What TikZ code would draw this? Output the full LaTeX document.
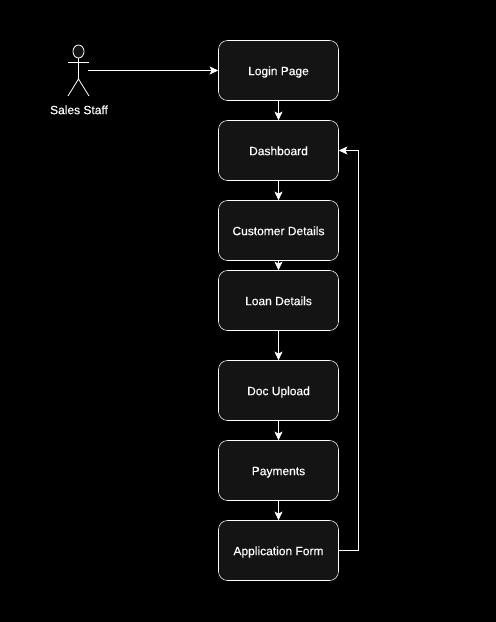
\documentclass[tikz,border=0pt]{standalone}
\usepackage{fontspec}
\setmainfont[FakeBold=0.25]{Liberation Sans}
\usetikzlibrary{arrows.meta}
\usetikzlibrary{shapes.geometric}
\definecolor{boxfill}{HTML}{141414}
\tikzset{
    screen/.style={draw=white,fill=boxfill,rounded corners=6.75pt,minimum width=90pt,minimum height=45pt,inner sep=0pt,text=white,text height=8pt,text depth=1pt,font=\fontsize{9}{11}\selectfont},
    flow/.style={draw=white,line width=0.75pt,-{Stealth[length=6.5pt,width=6pt,inset=1.5pt]}},
    limb/.style={draw=white,line width=0.6pt}
}
\begin{document}
\begin{tikzpicture}[x=0.75pt,y=-0.75pt]
    \useasboundingbox[fill=black] (0,0) rectangle (496,622);

    \node[screen] (login) at (278.5,70.5) {Login Page};
    \node[screen] (dashboard) at (278.5,150.5) {Dashboard};
    \node[screen] (customer) at (278.5,230.5) {Customer Details};
    \node[screen] (loan) at (278.5,300.5) {Loan Details};
    \node[screen] (upload) at (278.5,390.5) {Doc Upload};
    \node[screen] (payments) at (278.5,470.5) {Payments};
    \node[screen] (appform) at (278.5,550.5) {Application Form};

    % actor
    \node[ellipse,limb,fill=boxfill,minimum width=8.25pt,minimum height=9.75pt,inner sep=0pt] (head) at (78.5,51.5) {};
    \coordinate (hip) at (78.5,79);
    \coordinate (handl) at (68,62);
    \coordinate (handr) at (89,62);
    \coordinate (footl) at (68,96);
    \coordinate (footr) at (89,96);
    \coordinate (staffout) at (88,70.5);
    \draw[limb] (head) -- (hip);
    \draw[limb] (handl) -- (handr);
    \draw[limb] (footl) -- (hip) -- (footr);
    \node[text=white,text height=8pt,text depth=1pt,font=\fontsize{9}{11}\selectfont] (staff) at (79,109.5) {Sales Staff};

    \draw[flow] (staffout) -- (login);
    \draw[flow] (login) -- (dashboard);
    \draw[flow] (dashboard) -- (customer);
    \draw[flow] (customer) -- (loan);
    \draw[flow] (loan) -- (upload);
    \draw[flow] (upload) -- (payments);
    \draw[flow] (payments) -- (appform);
    \draw[flow] (appform.east) -- ++(20,0) |- (dashboard.east);
\end{tikzpicture}
\end{document}
